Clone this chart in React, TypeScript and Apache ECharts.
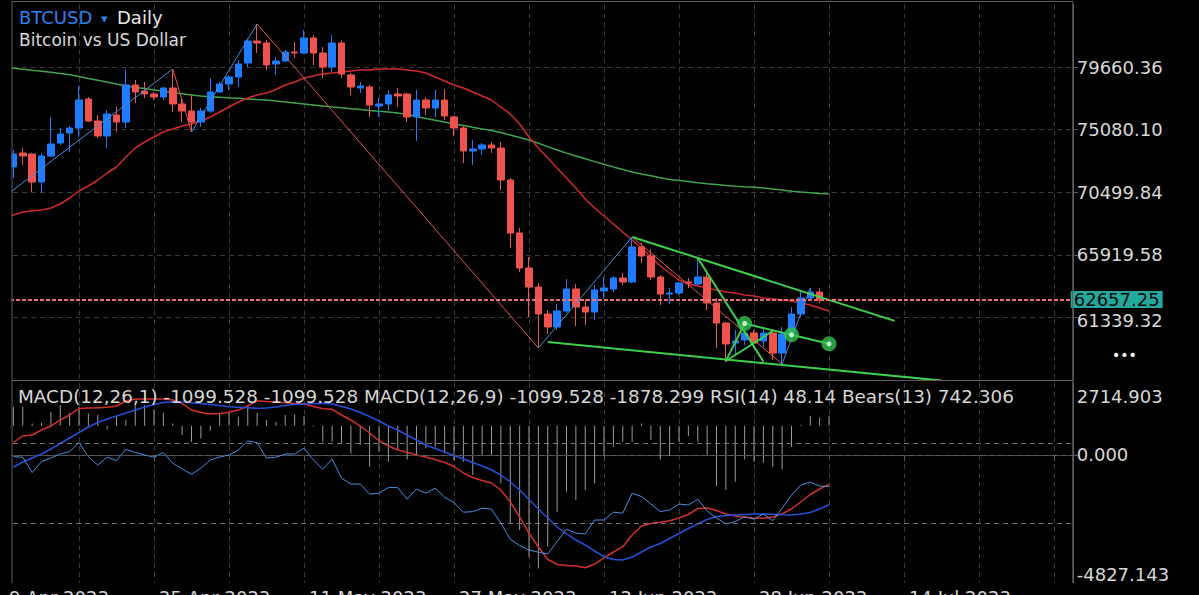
import React, { useEffect, useRef } from 'react';
import * as echarts from 'echarts';

const FONT = "'DejaVu Sans', sans-serif";
const MONTHS = ['Jan', 'Feb', 'Mar', 'Apr', 'May', 'Jun', 'Jul', 'Aug', 'Sep', 'Oct', 'Nov', 'Dec'];
const START = Date.UTC(2023, 3, 9);
const DAY_COUNT = 115;
const dates: string[] = Array.from({ length: DAY_COUNT }, (_, i) => {
  const d = new Date(START + i * 86400000);
  return `${d.getUTCDate()} ${MONTHS[d.getUTCMonth()]} ${d.getUTCFullYear()}`;
});

// candles from 10 Apr: [open, close, low, high]
const candles: number[][] = [
  [72348, 73299, 71543, 73592], [73372, 73153, 72494, 73738], [73299, 71250, 70518, 73372], [71250, 73153, 70445, 73372],
  [73153, 74031, 73080, 76007], [74104, 74763, 73958, 75202], [74836, 75202, 73446, 75348], [75202, 77251, 74543, 78276],
  [77325, 75714, 75641, 77471], [75714, 74617, 74470, 76154], [74617, 76227, 73738, 76519], [76154, 75641, 74909, 76739],
  [75641, 78349, 75202, 79447], [78349, 77837, 77032, 78715], [77910, 77690, 77398, 78569], [77690, 77471, 77251, 77837],
  [77471, 78130, 77251, 78203], [78130, 76959, 76373, 79520], [76959, 76446, 75641, 77398], [76446, 75641, 74909, 77617],
  [75641, 76446, 75275, 76666], [76446, 77837, 76300, 78861], [77837, 78422, 77764, 78569], [78422, 78935, 77983, 79081],
  [78935, 79886, 78203, 80179], [79959, 81569, 79666, 81789], [81569, 81423, 80691, 82813], [81423, 79813, 79447, 81642],
  [79886, 80106, 79081, 80398], [80106, 80764, 80032, 80911], [80764, 80691, 80325, 81496], [80691, 81789, 80620, 82374],
  [81789, 80691, 79813, 82008], [80691, 79666, 78861, 81130], [79666, 81423, 79300, 82008], [81423, 79154, 78861, 81642],
  [79081, 78203, 77617, 79227], [78130, 78276, 77764, 78569], [78203, 76885, 76007, 78349], [76812, 76959, 76007, 77398],
  [76959, 77617, 76519, 77983], [77690, 77544, 76739, 78130], [77690, 76007, 75641, 77764], [76007, 77251, 74251, 77983],
  [77251, 76666, 76154, 77471], [76666, 77251, 76007, 77983], [77251, 76080, 75788, 78057], [76007, 75202, 74617, 76080],
  [75202, 73519, 72640, 75348], [73519, 73665, 72494, 74324], [73665, 73958, 73226, 74104], [73958, 73738, 73372, 74177],
  [73738, 71396, 70665, 74177], [71396, 67517, 66420, 71543], [67517, 64956, 64663, 67883], [64956, 63565, 61370, 65761],
  [63565, 61589, 59101, 63858], [61589, 60638, 60126, 61882], [60638, 61809, 60418, 62321], [61809, 63419, 61662, 64151],
  [63419, 62102, 60711, 63785], [62102, 61736, 60784, 62687], [61736, 63346, 61150, 63712], [63273, 63492, 62687, 64297],
  [63419, 64224, 63199, 64370], [64224, 63931, 63712, 64590], [63931, 66493, 63858, 67225], [66493, 65834, 65322, 66786],
  [65834, 64297, 64078, 66346], [64297, 63053, 62248, 64444], [63053, 63126, 62321, 63492], [63126, 63858, 62980, 63931],
  [63931, 63858, 63492, 64224], [63785, 64297, 63712, 65688], [64297, 62394, 61882, 64590], [62394, 60931, 59101, 62760],
  [60931, 59394, 58076, 61004], [59467, 59613, 58589, 60418], [59686, 60199, 59320, 60565], [60199, 59467, 59101, 60418],
  [59613, 60199, 59174, 60565], [60199, 58735, 58223, 60272], [58735, 60126, 57930, 60638], [60199, 61589, 59906, 62102],
  [61589, 62760, 61370, 63346], [62760, 63199, 62687, 63492], [63199, 62657.25, 62394, 63492],
];

// moving averages from 9 Apr
const maRed = [68725, 68835, 69054, 69128, 69201, 69347, 69640, 70079, 70591, 70957, 71396,
  71909, 72348, 73080, 73738, 74177, 74543, 74909, 75129, 75348, 75495,
  75714, 76007, 76373, 76739, 77105, 77398, 77617, 77764, 78020, 78349,
  78569, 78861, 79008, 79154, 79227, 79300, 79374, 79447, 79447, 79520,
  79520, 79520, 79447, 79374, 79227, 78935, 78642, 78349, 78130, 77837,
  77544, 77251, 76739, 76227, 75495, 74543, 73738, 73007, 72275, 71543,
  70811, 70006, 69347, 68762, 68176, 67591, 67005, 66420, 65761, 65102,
  64590, 64078, 63785, 63639, 63492, 63346, 63199, 63126, 62980, 62907,
  62760, 62687, 62614, 62541, 62394, 62248, 62028, 61809];
const maGreen = [79666, 79579, 79505, 79425, 79352, 79279, 79198, 79103, 78971, 78832, 78700,
  78561, 78430, 78291, 78173, 78086, 77990, 77903, 77808, 77712, 77625,
  77537, 77493, 77456, 77412, 77376, 77332, 77288, 77251, 77178, 77105,
  77032, 76959, 76885, 76812, 76739, 76680, 76615, 76556, 76490, 76432,
  76373, 76307, 76183, 76044, 75905, 75773, 75634, 75502, 75378, 75253,
  75129, 75012, 74873, 74690, 74507, 74324, 74082, 73841, 73592, 73365,
  73153, 72948, 72743, 72545, 72355, 72172, 71982, 71835, 71704, 71557,
  71440, 71360, 71279, 71191, 71126, 71067, 71001, 70943, 70899, 70862,
  70818, 70738, 70657, 70577, 70511, 70467, 70416, 70372];

// zigzag pivots [dayIndex from 9 Apr, price]
const zigzag = [[0, 70152], [18, 79520], [20, 74909], [27, 82813], [57, 59101], [67, 67225], [83, 57930], [86, 63492]];
// trend lines drawn by user [[day, price], [day, price]]
const trendLines = [
  [[67, 67225], [95, 61085]],
  [[58, 59540], [100, 56715]],
  [[79, 60894], [88, 59408]],
  [[74, 65688], [81, 58113]],
  [[77, 58149], [82, 60345]],
  [[77, 58149], [79, 60894]],
];
const signalMarks = [[79, 60894], [84, 60067], [88, 59408]];
const lastPrice = 62657.25;
const priceAxis = { min: 56759.06, max: 84240.62, interval: 4580.26 };

// indicators from 10 Apr
const macd = [471, 716, 754, 943, 1093, 1320, 1508, 1753, 1772, 1784,
  1802, 1848, 2047, 2104, 2112, 2112, 2112, 2074, 1942, 1697,
  1603, 1546, 1565, 1610, 1697, 1848, 2047, 2017, 1998, 1968,
  1942, 1923, 1829, 1746, 1723, 1508, 1320, 1093, 829, 547,
  339, 188, 105, 0, -76, -170, -283, -434, -679, -849,
  -962, -1056, -1320, -1773, -2338, -2942, -3470, -3941, -4130, -4167,
  -4186, -4250, -4111, -3884, -3658, -3458, -3017, -2678, -2583, -2538,
  -2478, -2376, -2244, -2018, -1999, -2093, -2225, -2301, -2350, -2376,
  -2387, -2338, -2214, -2037, -1773, -1490, -1282, -1099.528];
const macdSignal = [-453, -264, -113, 37, 226, 433, 641, 848, 1056, 1225,
  1357, 1470, 1584, 1697, 1810, 1904, 1980, 2006, 1998, 1972,
  1942, 1904, 1866, 1821, 1799, 1780, 1761, 1772, 1810, 1866,
  1904, 1923, 1942, 1949, 1923, 1829, 1734, 1603, 1452, 1282,
  1093, 943, 754, 565, 377, 245, 113, -19, -151, -283,
  -415, -566, -754, -1018, -1320, -1678, -2037, -2376, -2715, -2979,
  -3206, -3394, -3620, -3835, -3941, -3960, -3847, -3658, -3470, -3338,
  -3149, -2961, -2772, -2602, -2433, -2319, -2282, -2263, -2244, -2225,
  -2225, -2236, -2251, -2263, -2225, -2169, -2037, -1878.299];
const rsi = [63.2, 62.9, 55.2, 60.7, 62.5, 64.5, 65.7, 70.2, 63.2, 59.0,
  62.9, 61.2, 66.9, 65.2, 64.0, 62.9, 65.2, 59.9, 57.0, 54.4,
  57.4, 61.5, 63.0, 64.0, 66.5, 71.0, 70.2, 62.4, 62.9, 64.5,
  64.5, 67.4, 61.5, 56.9, 62.0, 52.4, 49.5, 49.4, 44.4, 44.9,
  47.7, 47.7, 41.9, 47.0, 44.9, 47.4, 42.9, 40.2, 35.4, 35.7,
  37.4, 36.9, 29.9, 21.9, 18.7, 16.5, 15.4, 14.5, 20.7, 26.9,
  24.9, 24.5, 31.5, 31.5, 35.4, 34.9, 44.9, 43.2, 39.5, 35.7,
  36.5, 39.5, 39.0, 41.9, 36.0, 32.5, 29.5, 30.7, 33.2, 31.9,
  34.5, 31.2, 37.4, 44.0, 49.0, 50.4, 48.5, 48.14];
const bears = [1454, 1454, 176, 230, 1071, 1584, 995, 1454, 941, 819,
  -283, 742, 436, 1706, 1584, 1247, 995, 176, -711, -1224,
  -972, -383, 995, 995, 689, 1584, 995, 436, 306, 819,
  864, 742, -77, -1224, -1224, -1354, -2119, -1476, -3137, -1989,
  -2754, -1859, -2578, -2241, -1737, -1607, -2119, -2624, -2754, -3771,
  -2241, -2241, -4414, -7474, -7979, -10022, -10917, -9257, -6579, -5049,
  -5684, -4919, -4414, -2241, -1607, -1224, -1224, 176, -1094, -2578,
  -2318, -1224, -788, -1224, -2241, -4613, -4919, -4284, -2578, -2754,
  -2831, -3137, -3343, -1607, 77, 742, 635, 742.306];
const macdAxis = { min: -4827.143, max: 2714.903 };
const bearsAxis = { min: -12034, max: 3267 };
const indicatorText = 'MACD(12,26,1) -1099.528 -1099.528 MACD(12,26,9) -1099.528 -1878.299 RSI(14) 48.14 Bears(13) 742.306';

const BLUE = '#1f7bff';
const RED = '#ef5350';
const GRID_DASH = { color: '#3a3a3a', type: [5, 4] as any, width: 1 };
const FRAME = '#5c5c5c';
const LABEL = '#d8d8d8';

function buildOption(): any {
  const vSplit = (i: number) => i > 0 && i % 8 === 0;
  const xBase = (gridIndex: number) => ({
    type: 'category', gridIndex, data: dates, boundaryGap: false,
    splitLine: { show: true, interval: vSplit, lineStyle: GRID_DASH },
  });
  const series: any[] = [];
  series.push({ type: 'line', xAxisIndex: 0, yAxisIndex: 0, data: maGreen.map((v, i) => [i, v]), symbol: 'none', lineStyle: { color: '#43a34b', width: 1.5 }, z: 1, silent: true });
  series.push({ type: 'line', xAxisIndex: 0, yAxisIndex: 0, data: maRed.map((v, i) => [i, v]), symbol: 'none', lineStyle: { color: '#cf2b2b', width: 1.5 }, z: 1, silent: true });
  for (let k = 0; k < zigzag.length - 1; k++) {
    const up = zigzag[k + 1][1] > zigzag[k][1];
    series.push({ type: 'line', xAxisIndex: 0, yAxisIndex: 0, data: [zigzag[k], zigzag[k + 1]], symbol: 'none', lineStyle: { color: up ? '#3f8fd8' : '#e0584f', width: 1 }, z: 4, silent: true });
  }
  trendLines.forEach((seg) => {
    series.push({ type: 'line', xAxisIndex: 0, yAxisIndex: 0, data: seg, symbol: 'none', lineStyle: { color: '#3ccf4e', width: 2 }, z: 4, silent: true });
  });
  series.push({
    type: 'candlestick', xAxisIndex: 0, yAxisIndex: 0,
    data: candles.map((c, i) => [i + 1, ...c]),
    encode: { x: 0, y: [1, 2, 3, 4] },
    barWidth: 7,
    itemStyle: { color: BLUE, color0: RED, borderColor: BLUE, borderColor0: RED, borderWidth: 1 },
    z: 3,
    markLine: {
      silent: true, symbol: ['none', 'none'], animation: false,
      lineStyle: { color: '#e57373', type: [4, 2], width: 2 },
      label: {
        show: true, position: 'end', distance: -2, formatter: () => lastPrice.toFixed(2),
        backgroundColor: '#22a99c', color: '#0b0b0b', fontSize: 18, fontFamily: FONT, padding: [0, 3, 0, 3], lineHeight: 17,
      },
      data: [{ yAxis: lastPrice }],
    },
  });
  series.push({ type: 'scatter', xAxisIndex: 0, yAxisIndex: 0, data: signalMarks, symbol: 'circle', symbolSize: 15, itemStyle: { color: '#33c24d' }, z: 5, silent: true });
  series.push({ type: 'scatter', xAxisIndex: 0, yAxisIndex: 0, data: signalMarks, symbol: 'circle', symbolSize: 5, itemStyle: { color: '#e9ffe9' }, z: 6, silent: true });

  series.push({ type: 'bar', xAxisIndex: 1, yAxisIndex: 3, data: bears.map((v, i) => [i + 1, v]), barWidth: 1, itemStyle: { color: '#9a9a9a' }, z: 1, silent: true });
  series.push({
    type: 'line', xAxisIndex: 1, yAxisIndex: 1, data: macd.map((v, i) => [i + 1, v]), symbol: 'none', lineStyle: { color: '#d3302c', width: 1.5 }, z: 3, silent: true,
    markLine: { silent: true, symbol: ['none', 'none'], label: { show: false }, lineStyle: { color: '#4a4a4a', type: [5, 4], width: 1 }, data: [{ yAxis: 0 }] },
  });
  series.push({ type: 'line', xAxisIndex: 1, yAxisIndex: 1, data: macdSignal.map((v, i) => [i + 1, v]), symbol: 'none', lineStyle: { color: '#2450d8', width: 1.5 }, z: 3, silent: true });
  series.push({
    type: 'line', xAxisIndex: 1, yAxisIndex: 2, data: rsi.map((v, i) => [i + 1, v]), symbol: 'none', lineStyle: { color: '#4a90e2', width: 1 }, z: 3, silent: true,
    markLine: { silent: true, symbol: ['none', 'none'], label: { show: false }, lineStyle: { color: '#777', type: [5, 4], width: 1 }, data: [{ yAxis: 70 }, { yAxis: 30 }] },
  });

  const txt = (text: string, x: number, y: number, fill: string, fontSize: number) => ({
    type: 'text', x, y, z: 100, silent: true,
    style: { text, fill, fontSize, fontFamily: FONT, verticalAlign: 'middle', align: 'left' },
  });
  const ln = (x1: number, y1: number, x2: number, y2: number) => ({
    type: 'line', z: 100, silent: true, shape: { x1, y1, x2, y2 }, style: { stroke: FRAME, lineWidth: 1 },
  });
  const labelStyle = { color: LABEL, fontSize: 18, fontFamily: FONT };
  const lowestPriceLabel = priceAxis.min + priceAxis.interval;

  return {
    backgroundColor: '#000',
    animation: false,
    grid: [
      { left: 4, width: 1068.75, top: 4.5, height: 375.5, outerBoundsMode: 'none', containLabel: false },
      { left: 4, width: 1068.75, top: 383, height: 200, outerBoundsMode: 'none', containLabel: false },
    ],
    xAxis: [
      { ...xBase(0), axisLine: { show: false }, axisTick: { show: false }, axisLabel: { show: false } },
      {
        ...xBase(1),
        axisLine: { show: true, lineStyle: { color: FRAME } },
        axisTick: { show: true, interval: (i: number) => i > 0 && i % 16 === 0, length: 6, lineStyle: { color: FRAME } },
        axisLabel: {
          interval: (i: number) => i % 16 === 0 && i <= 96, color: LABEL, fontSize: 18, fontFamily: FONT,
          align: 'left', margin: 5, padding: [0, 0, 0, 5],
        },
      },
    ],
    yAxis: [
      {
        type: 'value', gridIndex: 0, position: 'right', min: priceAxis.min, max: priceAxis.max, interval: priceAxis.interval,
        axisLine: { show: true, lineStyle: { color: FRAME } },
        axisTick: { show: true, length: 5, lineStyle: { color: FRAME } },
        axisLabel: {
          ...labelStyle, margin: 4, showMinLabel: false, showMaxLabel: false,
          formatter: (v: number) => (Math.abs(v - lowestPriceLabel) < 0.01 ? `{d|${v.toFixed(2)}}` : `{n|${v.toFixed(2)}}`),
          rich: { d: { ...labelStyle, padding: [6, 0, 0, 0] }, n: { ...labelStyle } },
        },
        splitLine: { show: true, showMinLine: false, showMaxLine: false, lineStyle: GRID_DASH },
      },
      {
        type: 'value', gridIndex: 1, position: 'right', min: macdAxis.min, max: macdAxis.max,
        axisLine: { show: true, lineStyle: { color: FRAME } },
        axisTick: { show: true, length: 5, customValues: [0], lineStyle: { color: FRAME } },
        axisLabel: {
          customValues: [macdAxis.min, 0, macdAxis.max], showMinLabel: true, showMaxLabel: true,
          ...labelStyle, margin: 4,
          formatter: (v: number) => {
            if (v > 1) return `{t|${macdAxis.max.toFixed(3)}}`;
            if (v < -1) return `{b|${macdAxis.min.toFixed(3)}}`;
            return `{m|${(0).toFixed(3)}}`;
          },
          rich: {
            t: { ...labelStyle, padding: [26, 0, 0, 0] },
            b: { ...labelStyle, padding: [0, 0, 18, 0] },
            m: { ...labelStyle },
          },
        },
        splitLine: { show: false },
      },
      { type: 'value', gridIndex: 1, min: 0, max: 100, show: false, splitLine: { show: false } },
      { type: 'value', gridIndex: 1, min: bearsAxis.min, max: bearsAxis.max, show: false, splitLine: { show: false } },
    ],
    series,
    graphic: [
      { type: 'rect', z: 99, silent: true, shape: { x: 0, y: 0, width: 11.5, height: 584 }, style: { fill: '#000' } },
      ln(12, 1.5, 12, 583), ln(12, 1.5, 1073, 1.5), ln(1072.75, 1.5, 1072.75, 583), ln(12, 380.5, 1073, 380.5),
      txt('BTCUSD', 19, 17, '#2f80ed', 18),
      txt('▾', 101, 18, '#2f80ed', 13),
      txt('Daily', 117, 17, '#e6e6e6', 18),
      txt('Bitcoin vs US Dollar', 19, 40, '#d9d9d9', 17),
      txt(indicatorText, 18, 396, '#d6d6d6', 18.4),
      txt('•••', 1112, 355, '#ffffff', 14),
    ],
  };
}

export default function App() {
  const ref = useRef<HTMLDivElement>(null);
  useEffect(() => {
    if (!ref.current) return;
    const chart = echarts.init(ref.current, undefined, { renderer: 'svg' });
    chart.setOption(buildOption());
    return () => chart.dispose();
  }, []);
  return (
    <div
      ref={ref}
      style={{ position: 'absolute', left: 0, top: 0, width: 1199, height: 595, background: '#000' }}
    />
  );
}
